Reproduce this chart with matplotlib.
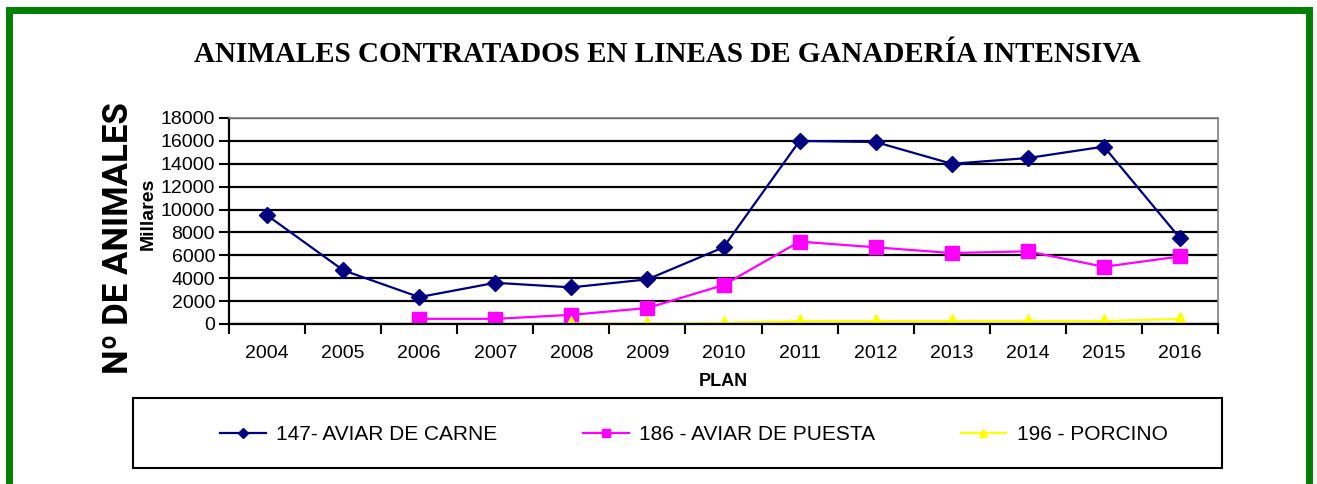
import numpy as np
import matplotlib.pyplot as plt
from matplotlib.patches import Rectangle

years = ['2004', '2005', '2006', '2007', '2008', '2009', '2010',
         '2011', '2012', '2013', '2014', '2015', '2016']
carne = [9500, 4700, 2350, 3600, 3200, 3900, 6700, 16000, 15900, 14000, 14500, 15500, 7500]
puesta = [np.nan, np.nan, 450, 450, 800, 1400, 3400, 7200, 6700, 6200, 6350, 5000, 5900]
porcino = [np.nan, np.nan, np.nan, np.nan, 50, 50, 100, 250, 250, 250, 250, 250, 450]
yticks = list(range(0, 18001, 2000))

fig = plt.figure(figsize=(13.17, 4.84), dpi=100)
ax = fig.add_axes([229 / 1317, 1 - 324 / 484, 989 / 1317, 206 / 484])

x = np.arange(len(years))
l1, = ax.plot(x, carne, color='#000080', marker='D', markersize=8, lw=1.6,
              label='147- AVIAR DE CARNE')
l2, = ax.plot(x, puesta, color='#FF00FF', marker='s', markersize=10, lw=1.6,
              label='186 - AVIAR DE PUESTA')
l3, = ax.plot(x, porcino, color='#FFFF00', marker='^', markersize=10, lw=1.6,
              label='196 - PORCINO')

ax.set_xlim(-0.5, len(years) - 0.5)
ax.set_ylim(0, 18000)
ax.set_yticks(yticks)
ax.set_yticklabels([str(v) for v in yticks], fontsize=14, family='Liberation Sans')
ax.set_xticks(x)
ax.set_xticklabels(years, fontsize=14, family='Liberation Sans')
ax.set_xticks(np.arange(-0.5, len(years)), minor=True)
ax.tick_params(axis='x', which='major', length=0, pad=15)
ax.tick_params(axis='x', which='minor', length=7, width=1.5, direction='out')
ax.tick_params(axis='y', length=7, width=1.5, direction='out', pad=3)

ax.grid(axis='y', color='black', lw=1.6)
ax.set_axisbelow(True)
for s in ['top', 'right']:
    ax.spines[s].set_color('#808080')
    ax.spines[s].set_linewidth(1.2)
for s in ['left', 'bottom']:
    ax.spines[s].set_color('black')
    ax.spines[s].set_linewidth(1.6)

ax.set_xlabel('PLAN', fontsize=13, fontweight='bold', family='Liberation Sans', labelpad=8)

fig.text(118 / 1317, 1 - 238 / 484, 'Nº DE ANIMALES', rotation=90, ha='center', va='center',
         fontsize=25, fontweight='bold', family='Roboto')
fig.text(148 / 1317, 1 - 214 / 484, 'Millares', rotation=90, ha='center', va='center',
         fontsize=14, fontweight='bold', family='Liberation Sans')
fig.text(667 / 1317, 1 - 54 / 484, 'ANIMALES CONTRATADOS EN LINEAS DE GANADERÍA INTENSIVA',
         ha='center', va='center', fontsize=21, fontweight='bold', family='Liberation Serif')

fig.patches.append(Rectangle((133 / 1317, 1 - 468 / 484), 1089 / 1317, 70 / 484,
                             transform=fig.transFigure, fill=False,
                             edgecolor='black', lw=1.5))
leg = fig.legend(handles=[l1, l2, l3], loc='center left', ncol=3,
                 bbox_to_anchor=(220 / 1317, 1 - 435 / 484),
                 prop={'family': 'Liberation Sans', 'size': 15}, frameon=False,
                 borderpad=0, borderaxespad=0, handlelength=2.2, handletextpad=0.5,
                 columnspacing=4.1, markerscale=0.6)

fig.patches.append(Rectangle((8.5 / 1317, -0.1), 1300 / 1317, 1.1 - 10.5 / 484,
                             transform=fig.transFigure, fill=False,
                             edgecolor='#008000', lw=5.0))

fig.savefig('out.png', dpi=100)
